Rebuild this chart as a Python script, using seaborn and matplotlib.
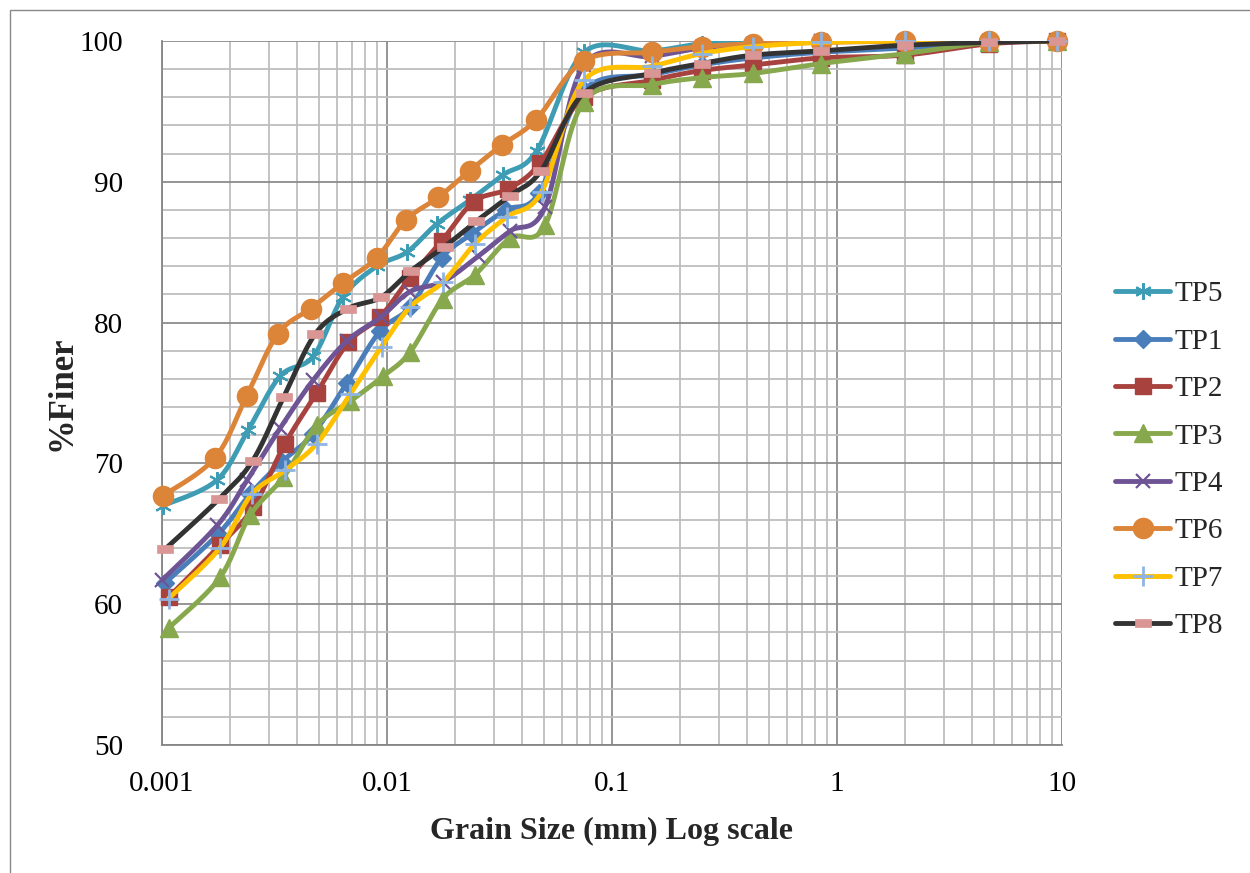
import numpy as np
import pandas as pd
import matplotlib
matplotlib.use("Agg")
import matplotlib.pyplot as plt
import seaborn as sns
from matplotlib.lines import Line2D
from matplotlib.patches import Rectangle
from matplotlib.path import Path
from matplotlib.ticker import FixedLocator, NullFormatter, FixedFormatter

# ---------------- data ----------------
series_names = ["TP5", "TP1", "TP2", "TP3", "TP4", "TP6", "TP7", "TP8"]
sieve_d = [0.075, 0.15, 0.25, 0.425, 0.85, 2.0, 4.75, 9.5]

tp5_d = [0.00101, 0.00175, 0.00242, 0.00335, 0.00470, 0.00636, 0.00900, 0.01224, 0.01663, 0.02338, 0.03288, 0.04628]
tp5_y = [67.0, 68.8, 72.4, 76.2, 77.6, 81.8, 84.0, 85.0, 87.0, 88.7, 90.5, 92.2]
tp5_s = [99.2, 99.3, 99.8, 99.9, 100, 100, 100, 100]

tp1_d = [0.00103, 0.00178, 0.00246, 0.00340, 0.00470, 0.00662, 0.00931, 0.01266, 0.01750, 0.02379, 0.03380, 0.04738]
tp1_y = [61.5, 65.0, 67.8, 70.1, 72.1, 75.7, 79.4, 81.1, 84.6, 86.3, 88.0, 89.2]
tp1_s = [96.5, 97.6, 98.3, 98.8, 99.2, 99.5, 99.9, 100]

tp2_d = [0.00107, 0.00181, 0.00255, 0.00352, 0.00487, 0.00673, 0.00931, 0.01266, 0.01750, 0.02436, 0.03460, 0.04786]
tp2_y = [60.5, 64.2, 66.9, 71.4, 75.0, 78.6, 80.4, 83.2, 85.8, 88.6, 89.5, 91.3]
tp2_s = [96.0, 97.2, 97.9, 98.3, 98.8, 99.0, 99.8, 100]

tp3_d = [0.00107, 0.00181, 0.00246, 0.00346, 0.00487, 0.00685, 0.00963, 0.01266, 0.01774, 0.02461, 0.03522, 0.05038]
tp3_y = [58.3, 61.9, 66.3, 69.0, 72.7, 74.4, 76.2, 77.9, 81.7, 83.4, 86.0, 86.9]
tp3_s = [95.7, 96.9, 97.4, 97.7, 98.4, 99.1, 99.9, 100]

tp4_d = [0.00100, 0.00176, 0.00239, 0.00335, 0.00469, 0.00664, 0.00940, 0.01266, 0.01774, 0.02537, 0.03522, 0.05038]
tp4_y = [61.7, 65.6, 68.8, 72.5, 75.9, 78.7, 80.4, 82.2, 82.9, 84.7, 86.5, 88.2]
tp4_s = [98.3, 98.9, 99.5, 99.8, 100, 100, 100, 100]

tp6_d = [0.00101, 0.00172, 0.00238, 0.00327, 0.00458, 0.00636, 0.00900, 0.01215, 0.01690, 0.02338, 0.03235, 0.04595]
tp6_y = [67.7, 70.4, 74.8, 79.2, 81.0, 82.8, 84.6, 87.3, 88.9, 90.8, 92.6, 94.4]
tp6_s = [98.6, 99.2, 99.6, 99.8, 99.9, 100, 100, 100]

tp7_d = [0.00107, 0.00181, 0.00250, 0.00352, 0.00487, 0.00685, 0.00947, 0.01266, 0.01779, 0.02461, 0.03404, 0.04871]
tp7_y = [60.4, 64.0, 67.8, 69.5, 71.4, 74.9, 78.3, 81.1, 82.9, 85.6, 87.5, 89.3]
tp7_s = [97.2, 98.2, 99.1, 99.6, 99.9, 100, 100, 100]

tp8_d = [0.00103, 0.00180, 0.00253, 0.00347, 0.00480, 0.00671, 0.00940, 0.01282, 0.01805, 0.02494, 0.03511, 0.04851]
tp8_y = [63.9, 67.5, 70.2, 74.7, 79.2, 81.0, 81.8, 83.7, 85.4, 87.2, 89.0, 90.8]
tp8_s = [96.3, 97.7, 98.4, 99.0, 99.3, 99.7, 99.9, 100]

hyd_d = [tp5_d, tp1_d, tp2_d, tp3_d, tp4_d, tp6_d, tp7_d, tp8_d]
hyd_y = [tp5_y, tp1_y, tp2_y, tp3_y, tp4_y, tp6_y, tp7_y, tp8_y]
sieve_y = [tp5_s, tp1_s, tp2_s, tp3_s, tp4_s, tp6_s, tp7_s, tp8_s]

y_ticks = [50, 60, 70, 80, 90, 100]
x_ticks = [0.001, 0.01, 0.1, 1, 10]
x_labels = ["0.001", "0.01", "0.1", "1", "10"]

# ---------------- style ----------------
line_colors = ["#3E9DB4", "#4A7EBB", "#A8423F", "#87A84C", "#6E5494", "#DC8438", "#FFC000", "#333333"]
rect = Path([(-1, -0.5), (1, -0.5), (1, 0.5), (-1, 0.5), (-1, -0.5)],
            [Path.MOVETO, Path.LINETO, Path.LINETO, Path.LINETO, Path.CLOSEPOLY])
marker_spec = [
    dict(marker=(6, 2, 0), ms=12, mec="#3E9DB4", mfc="#3E9DB4", mew=1.5),
    dict(marker="D", ms=9.5, mec="#4A7EBB", mfc="#4A7EBB", mew=1),
    dict(marker="s", ms=12, mec="#A8423F", mfc="#A8423F", mew=1),
    dict(marker="^", ms=13, mec="#87A84C", mfc="#87A84C", mew=1),
    dict(marker="x", ms=10, mec="#6E5494", mfc="#6E5494", mew=1.6),
    dict(marker="o", ms=14.5, mec="#DC8438", mfc="#DC8438", mew=1),
    dict(marker="+", ms=14, mec="#8EB4E3", mfc="#8EB4E3", mew=2),
    dict(marker=rect, ms=11, mec="#D99694", mfc="#D99694", mew=0.5),
]

sns.set_theme(style="white")
plt.rcParams["font.family"] = ["Liberation Serif", "DejaVu Serif"]

W, H = 1250, 873
fig = plt.figure(figsize=(W / 100, H / 100), dpi=100)
ax = fig.add_axes([162 / W, 1 - 745 / H, 900 / W, 704 / H])
ax.set_xscale("log")
ax.set_xlim(0.001, 10)
ax.set_ylim(50, 100)

sx, sy = 225.0, 14.08  # pixel scale per decade / per unit, for smoothing shape


def smooth_curve(xs, ys, n=24):
    u = np.log10(np.asarray(xs)) * sx
    v = np.asarray(ys) * sy
    P = np.column_stack([u, v])
    parts = []
    for i in range(len(P) - 1):
        p0 = P[i - 1] if i > 0 else P[i]
        p1, p2 = P[i], P[i + 1]
        p3 = P[i + 2] if i + 2 < len(P) else P[i + 1]
        c1 = p1 + (p2 - p0) / 6.0
        c2 = p2 - (p3 - p1) / 6.0
        t = np.linspace(0, 1, n, endpoint=False)[:, None]
        B = (1 - t) ** 3 * p1 + 3 * (1 - t) ** 2 * t * c1 + 3 * (1 - t) * t ** 2 * c2 + t ** 3 * p2
        parts.append(B)
    parts.append(P[-1:])
    Q = np.vstack(parts)
    return 10 ** (Q[:, 0] / sx), Q[:, 1] / sy


handles = []
for k, name in enumerate(series_names):
    d = list(hyd_d[k]) + list(sieve_d)
    y = list(hyd_y[k]) + list(sieve_y[k])
    order = np.argsort(d)
    d = np.asarray(d)[order]
    y = np.asarray(y)[order]
    cx, cy = smooth_curve(d, y)
    df = pd.DataFrame({"x": cx, "y": cy})
    sns.lineplot(data=df, x="x", y="y", sort=False, estimator=None, ax=ax,
                 color=line_colors[k], linewidth=3.5, zorder=3 + k, legend=False,
                 solid_capstyle="round", solid_joinstyle="round")
    ms = marker_spec[k]
    ax.plot(d, y, linestyle="none", marker=ms["marker"], markersize=ms["ms"],
            markeredgecolor=ms["mec"], markerfacecolor=ms["mfc"], markeredgewidth=ms["mew"],
            zorder=3 + k + 0.5, clip_on=False)
    handles.append(Line2D([0], [0], color=line_colors[k], linewidth=3.5,
                          marker=ms["marker"], markersize=ms["ms"],
                          markeredgecolor=ms["mec"], markerfacecolor=ms["mfc"],
                          markeredgewidth=ms["mew"], solid_capstyle="round"))

# grid
ax.yaxis.set_major_locator(FixedLocator(y_ticks))
ax.yaxis.set_minor_locator(FixedLocator(list(range(50, 101, 2))))
ax.xaxis.set_major_locator(FixedLocator(x_ticks))
minor_x = [m * 10.0 ** e for e in range(-3, 1) for m in range(2, 10)]
ax.xaxis.set_minor_locator(FixedLocator(minor_x))
ax.xaxis.set_major_formatter(FixedFormatter(x_labels))
ax.xaxis.set_minor_formatter(NullFormatter())
ax.grid(which="major", color="#8C8C8C", linewidth=1.3, zorder=0)
ax.grid(which="minor", color="#BEBEBE", linewidth=1.3, zorder=0)
ax.set_axisbelow(True)
for s in ["top", "right"]:
    ax.spines[s].set_visible(False)
for s in ["left", "bottom"]:
    ax.spines[s].set_color("#868686")
    ax.spines[s].set_linewidth(1.3)
ax.tick_params(axis="both", which="both", length=0, labelsize=21, colors="black")
ax.tick_params(axis="x", pad=19)
ax.tick_params(axis="y", pad=28)

ax.set_xlabel("Grain Size (mm) Log scale", fontsize=23, fontweight="bold", labelpad=14)
ax.set_ylabel("%Finer", fontsize=25, fontweight="bold", labelpad=1)

leg = fig.legend(handles, series_names, loc="upper left", bbox_to_anchor=(1115 / W, 1 - 281 / H),
                 frameon=False, fontsize=21, handlelength=1.9, handletextpad=0.15,
                 labelspacing=0.72, borderpad=0, borderaxespad=0)

fig.patches.append(Rectangle((10 / W, -0.01), 1.0, 1 - 10 / H + 0.01, transform=fig.transFigure,
                             fill=False, edgecolor="#888888", linewidth=1.0))

fig.savefig("out.png", dpi=100)
